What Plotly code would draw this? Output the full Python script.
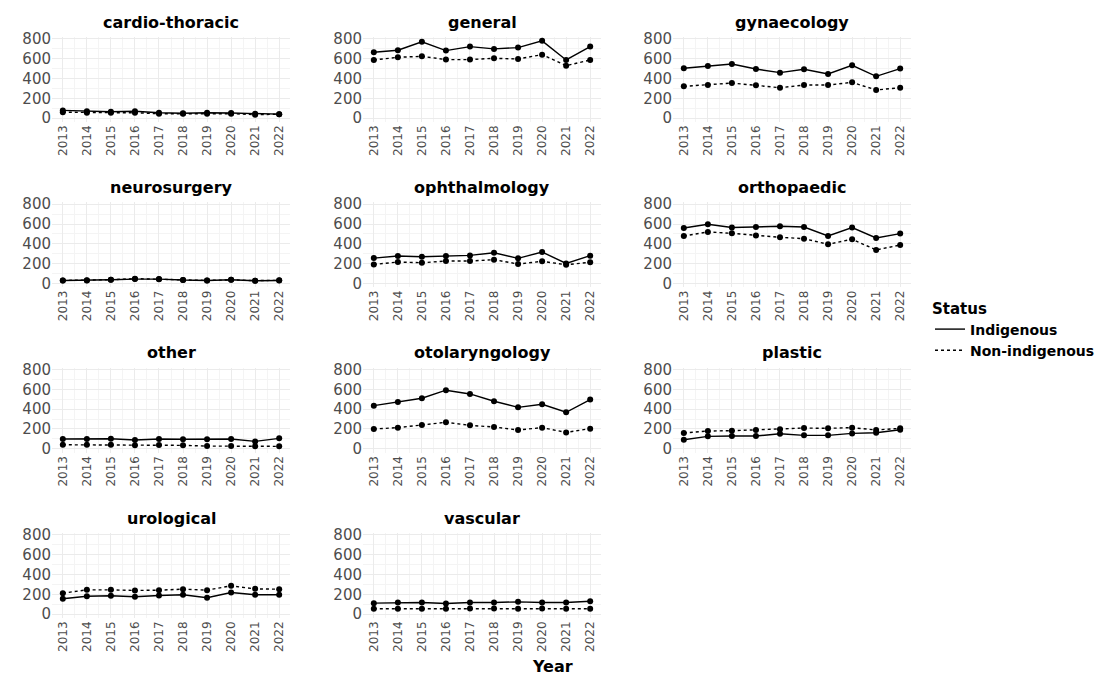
import plotly.graph_objects as go

years = [2013, 2014, 2015, 2016, 2017, 2018, 2019, 2020, 2021, 2022]
specialties = ["cardio-thoracic", "general", "gynaecology", "neurosurgery", "ophthalmology",
               "orthopaedic", "other", "otolaryngology", "plastic", "urological", "vascular"]

cardio_ind = [78, 70, 65, 70, 55, 50, 55, 52, 45, 40]
cardio_non = [60, 55, 55, 55, 45, 45, 45, 45, 35, 40]
general_ind = [665, 685, 770, 682, 722, 699, 712, 780, 587, 722]
general_non = [587, 614, 624, 591, 591, 604, 597, 641, 530, 587]
gyn_ind = [503, 527, 547, 496, 459, 493, 446, 533, 422, 500]
gyn_non = [321, 334, 354, 331, 307, 334, 334, 361, 284, 307]
neuro_ind = [30, 30, 37, 44, 44, 34, 30, 37, 27, 30]
neuro_non = [30, 32, 38, 48, 42, 34, 30, 36, 28, 32]
ophth_ind = [256, 277, 270, 277, 283, 310, 253, 317, 202, 280]
ophth_non = [192, 216, 209, 226, 226, 240, 196, 223, 189, 213]
ortho_ind = [560, 597, 564, 570, 577, 570, 479, 564, 459, 503]
ortho_non = [479, 520, 506, 483, 466, 452, 395, 446, 338, 388]
other_ind = [98, 98, 101, 88, 98, 95, 95, 98, 74, 105]
other_non = [40, 40, 40, 34, 37, 34, 27, 27, 24, 24]
oto_ind = [435, 472, 510, 591, 553, 479, 418, 449, 368, 496]
oto_non = [199, 213, 240, 267, 236, 219, 189, 213, 165, 203]
plastic_ind = [91, 125, 128, 128, 152, 135, 135, 155, 162, 192]
plastic_non = [159, 179, 182, 189, 196, 209, 206, 213, 189, 206]
uro_ind = [155, 181, 185, 175, 188, 195, 165, 218, 195, 195]
uro_non = [212, 245, 245, 239, 242, 252, 242, 286, 255, 252]
vasc_ind = [111, 118, 118, 108, 118, 118, 124, 118, 118, 130]
vasc_non = [54, 54, 54, 54, 57, 57, 54, 57, 54, 54]

indigenous = [cardio_ind, general_ind, gyn_ind, neuro_ind, ophth_ind, ortho_ind,
              other_ind, oto_ind, plastic_ind, uro_ind, vasc_ind]
non_indigenous = [cardio_non, general_non, gyn_non, neuro_non, ophth_non, ortho_non,
                  other_non, oto_non, plastic_non, uro_non, vasc_non]

y_ticks = [0, 200, 400, 600, 800]
y_minor = [100, 300, 500, 700]
x_minor = [y + 0.5 for y in years[:-1]]

W, H = 1105, 675
col_left = [52, 363, 673]
panel_w = 238
row_top = [37, 202.3, 367.6, 533]
panel_h = 85

FONT = "DejaVu Sans, Liberation Sans, Arial, sans-serif"
fig = go.Figure()
annotations = []

for i, name in enumerate(specialties):
    r, c = divmod(i, 3)
    n = i + 1
    xa = "x" if n == 1 else f"x{n}"
    ya = "y" if n == 1 else f"y{n}"
    fig.add_trace(go.Scatter(x=years, y=indigenous[i], mode="lines+markers",
                             line=dict(color="black", width=1.4, dash="solid"),
                             marker=dict(color="black", size=6),
                             xaxis=xa, yaxis=ya, showlegend=False))
    fig.add_trace(go.Scatter(x=years, y=non_indigenous[i], mode="lines+markers",
                             line=dict(color="black", width=1.4, dash="dot"),
                             marker=dict(color="black", size=6),
                             xaxis=xa, yaxis=ya, showlegend=False))
    x0 = col_left[c] / W
    x1 = (col_left[c] + panel_w) / W
    ytop = 1 - row_top[r] / H
    ybot = 1 - (row_top[r] + panel_h) / H
    xkey = "xaxis" if n == 1 else f"xaxis{n}"
    ykey = "yaxis" if n == 1 else f"yaxis{n}"
    fig.update_layout(**{
        xkey: dict(domain=[x0, x1], anchor=ya, range=[2012.55, 2022.45], automargin=False,
                   tickmode="array", tickvals=years, ticktext=[str(y) for y in years],
                   tickangle=-90, showgrid=True, gridcolor="#EBEBEB", gridwidth=1,
                   zeroline=False, showline=False, ticks="",
                   tickfont=dict(family=FONT, size=12, color="#4D4D4D"),
                   minor=dict(tickmode="array", tickvals=x_minor, showgrid=True,
                              gridcolor="#F4F4F4", gridwidth=0.6, ticks="")),
        ykey: dict(domain=[ybot, ytop], anchor=xa, range=[-39, 819], automargin=False,
                   tickmode="array", tickvals=y_ticks,
                   showgrid=True, gridcolor="#EBEBEB", gridwidth=1,
                   zeroline=False, showline=False, ticks="",
                   tickfont=dict(family=FONT, size=15, color="#4D4D4D"),
                   minor=dict(tickmode="array", tickvals=y_minor, showgrid=True,
                              gridcolor="#F4F4F4", gridwidth=0.6, ticks="")),
    })
    annotations.append(dict(text=f"<b>{name}</b>", x=(col_left[c] + panel_w / 2) / W,
                            y=1 - (row_top[r] - 15) / H, xref="paper", yref="paper",
                            showarrow=False, xanchor="center", yanchor="middle",
                            font=dict(family=FONT, size=16, color="black")))

# legend entries
fig.add_trace(go.Scatter(x=[None], y=[None], mode="lines", name="<b>Indigenous</b>",
                         line=dict(color="black", width=1.4, dash="solid")))
fig.add_trace(go.Scatter(x=[None], y=[None], mode="lines", name="<b>Non-indigenous</b>",
                         line=dict(color="black", width=1.4, dash="dot")))

annotations.append(dict(text="<b>Year</b>", x=552 / W, y=1 - 666 / H, xref="paper", yref="paper",
                        showarrow=False, xanchor="center", yanchor="middle",
                        font=dict(family=FONT, size=16, color="black")))

fig.update_layout(
    width=W, height=H,
    margin=dict(l=0, r=0, t=0, b=0),
    paper_bgcolor="white", plot_bgcolor="white",
    annotations=annotations,
    legend=dict(x=930 / W, y=1 - 294 / H, xanchor="left", yanchor="top",
                title=dict(text="<b>Status</b>", font=dict(family=FONT, size=15, color="black")),
                font=dict(family=FONT, size=14, color="black"),
                itemwidth=30, tracegroupgap=0, bgcolor="rgba(0,0,0,0)"),
    font=dict(family=FONT),
)

fig.write_html("out.html", config={"displayModeBar": False},
               post_script="document.body.style.margin='0';document.body.style.padding='0';")
